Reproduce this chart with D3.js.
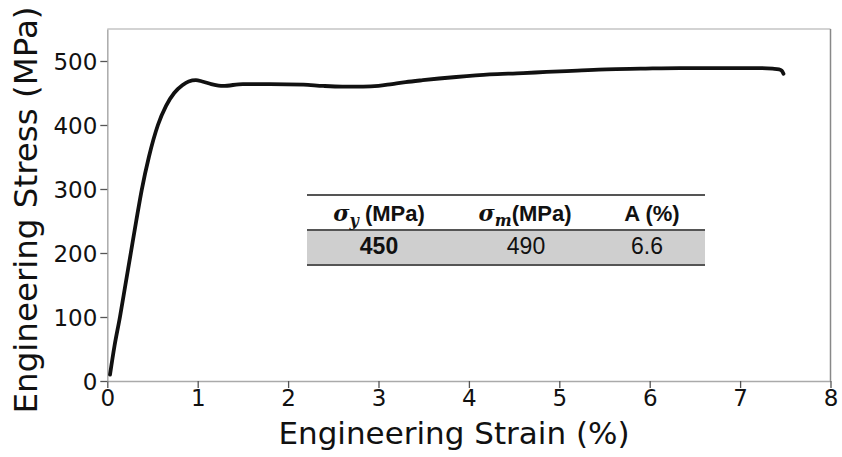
<!DOCTYPE html>
<html>
<head>
<meta charset="utf-8">
<script src="https://cdn.jsdelivr.net/npm/d3@7"></script>
<style>
  html, body { margin: 0; padding: 0; background: #fff; }
  svg { display: block; }
</style>
</head>
<body>
<svg id="chart" width="842" height="457"></svg>
<script>
// ---- data ----
const strain = [0.03, 0.08, 0.14, 0.20, 0.26, 0.32, 0.38, 0.46, 0.56, 0.65, 0.74, 0.83, 0.90, 0.98, 1.05, 1.15, 1.28, 1.50, 1.80, 2.17, 2.39, 2.60, 2.83, 3.00, 3.15, 3.30, 3.49, 3.86, 4.23, 4.60, 4.86, 5.20, 5.52, 5.90, 6.33, 6.80, 7.20, 7.36, 7.43, 7.46, 7.48];
const stress = [10, 55, 100, 150, 200, 250, 298, 350, 400, 430, 450, 462, 468, 470, 468, 464, 461, 464, 464, 463, 461, 460, 460, 461, 464, 467, 470, 475, 479, 481, 483, 485, 487, 488, 489, 489, 489, 488, 487, 485, 480];
const xTicks = [0, 1, 2, 3, 4, 5, 6, 7, 8];
const yTicks = [0, 100, 200, 300, 400, 500];
const tableHeaders = ["σy (MPa)", "σm(MPa)", "A (%)"];
const tableValues = ["450", "490", "6.6"];
const xTitle = "Engineering Strain (%)";
const yTitle = "Engineering Stress (MPa)";

// ---- layout ----
const svg = d3.select("#chart");
const L = 107.3, R = 830.5, T = 29, B = 381;
const x = d3.scaleLinear().domain([0, 8]).range([L, R]);
const y = d3.scaleLinear().domain([0, 550]).range([B, T]);

// frame
svg.append("line").attr("x1", L).attr("x2", R).attr("y1", T).attr("y2", T)
  .attr("stroke", "#c4c4c4").attr("stroke-width", 1.5);
svg.append("line").attr("x1", R).attr("x2", R).attr("y1", T).attr("y2", B)
  .attr("stroke", "#888").attr("stroke-width", 1.5);

// axes
const xAxis = svg.append("g").attr("transform", `translate(0,${B})`)
  .call(d3.axisBottom(x).tickValues(xTicks).tickFormat(d3.format("d")).tickSize(7).tickSizeOuter(0));
const yAxis = svg.append("g").attr("transform", `translate(${L},0)`)
  .call(d3.axisLeft(y).tickValues(yTicks).tickFormat(d3.format("d")).tickSize(7).tickSizeOuter(0));
[xAxis, yAxis].forEach(g => {
  g.select(".domain").attr("stroke", "#aaa").attr("stroke-width", 1.5);
  g.selectAll(".tick line").attr("stroke", "#555").attr("stroke-width", 1.3);
  g.selectAll(".tick text").attr("fill", "#111")
    .style("font-family", "DejaVu Sans").style("font-size", "23px");
});
xAxis.selectAll(".tick text").attr("dy", "0.72em").attr("y", 8);
yAxis.selectAll(".tick text").attr("x", -10).attr("dy", "0.36em");

// titles
svg.append("text").attr("x", 454).attr("y", 444)
  .attr("text-anchor", "middle").attr("fill", "#111")
  .style("font-family", "DejaVu Sans").style("font-size", "31px")
  .text(xTitle);
svg.append("text").attr("transform", `translate(37,${210}) rotate(-90)`)
  .attr("text-anchor", "middle").attr("fill", "#111")
  .style("font-family", "DejaVu Sans").style("font-size", "32.5px")
  .text(yTitle);

// curve
const pts = strain.map((s, i) => [s, stress[i]]);
const line = d3.line().x(d => x(d[0])).y(d => y(d[1])).curve(d3.curveMonotoneX);
svg.append("path").datum(pts).attr("d", line)
  .attr("fill", "none").attr("stroke", "#111").attr("stroke-width", 3.8)
  .attr("stroke-linejoin", "round").attr("stroke-linecap", "round");

// table
const tx0 = 307, tx1 = 705;
const colX = [379, 525, 652];
const valX = [379, 526, 647];
svg.append("rect").attr("x", tx0).attr("y", 230).attr("width", tx1 - tx0).attr("height", 35)
  .attr("fill", "#cfcfcf");
[195, 230, 265].forEach(yy => {
  svg.append("line").attr("x1", tx0).attr("x2", tx1).attr("y1", yy).attr("y2", yy)
    .attr("stroke", "#555").attr("stroke-width", 2);
});
const hdrFont = "'Liberation Sans', Arial, sans-serif";
const subs = ["y", "m", null];
tableHeaders.forEach((h, i) => {
  const t = svg.append("text").attr("x", colX[i]).attr("y", 221)
    .attr("text-anchor", "middle").attr("fill", "#111")
    .style("font-family", hdrFont).style("font-size", "22px").style("font-weight", "bold");
  if (subs[i]) {
    const rest = h.slice(2);
    t.append("tspan").style("font-family", "'DejaVu Serif', serif").style("font-style", "italic")
      .style("font-weight", "bold").text("σ");
    t.append("tspan").attr("dy", 5).style("font-family", "'DejaVu Serif', serif").style("font-style", "italic")
      .style("font-weight", "bold").style("font-size", "16px").text(subs[i]);
    t.append("tspan").attr("dy", -5).text(rest);
  } else {
    t.text(h);
  }
});
tableValues.forEach((v, i) => {
  svg.append("text").attr("x", valX[i]).attr("y", 254)
    .attr("text-anchor", "middle").attr("fill", "#111")
    .style("font-family", hdrFont).style("font-size", "23px")
    .style("font-weight", i === 0 ? "bold" : "normal")
    .text(v);
});
</script>
</body>
</html>
